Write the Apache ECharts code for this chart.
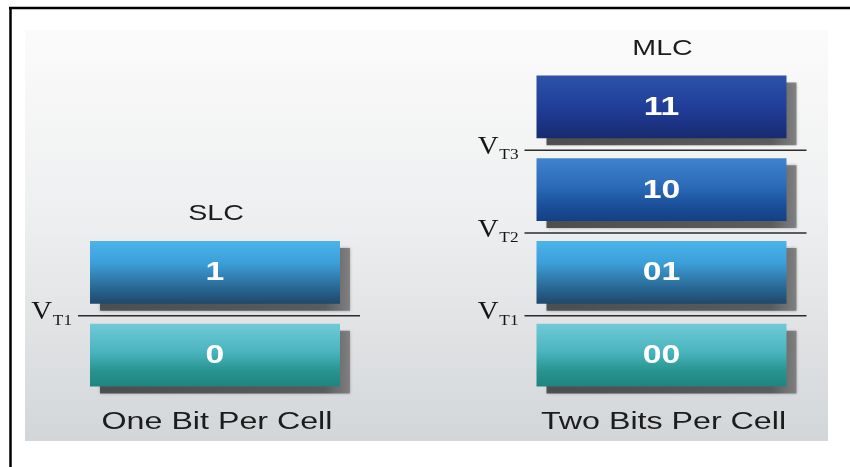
<!DOCTYPE html>
<html>
<head>
<meta charset="utf-8">
<script src="https://cdn.jsdelivr.net/npm/echarts@6/dist/echarts.min.js"></script>
<style>
  html, body { margin: 0; padding: 0; background: #ffffff; }
  #chart { width: 850px; height: 467px; }
</style>
</head>
<body>
<div id="chart"></div>
<script>
// ---- data ----
const columns = ['SLC', 'MLC'];
const captions = ['One Bit Per Cell', 'Two Bits Per Cell'];
const slcStates = ['0', '1'];
const mlcStates = ['00', '01', '10', '11'];
const slcThresholds = ['T1'];
const mlcThresholds = ['T1', 'T2', 'T3'];

// ---- derived tables ----
const cellData = [
  ...slcStates.map((s, i) => ({ value: [0, i], label: s })),
  ...mlcStates.map((s, i) => ({ value: [1, i], label: s }))
];
const thresholdData = [
  ...slcThresholds.map((t, i) => ({ value: [0, i + 1], label: t })),
  ...mlcThresholds.map((t, i) => ({ value: [1, i + 1], label: t }))
];
const headData = [
  { value: [0, slcStates.length], title: columns[0], caption: captions[0] },
  { value: [1, mlcStates.length], title: columns[1], caption: captions[1] }
];

// ---- styles ----
const SANS = "'Liberation Sans', Arial, Helvetica, sans-serif";
const SERIF = "'Liberation Serif', 'Times New Roman', serif";
const BAR_HALF = 125, INSET_TOP = 8, INSET_BOTTOM = 12;
const levelStops = [
  [['#70cad7', 0], ['#4ab4be', 0.45], ['#28948f', 0.75], ['#1f847f', 1]],
  [['#4cb3ec', 0], ['#3c9fda', 0.35], ['#2b6e9c', 0.7], ['#1e486a', 1]],
  [['#4083cd', 0], ['#2b6ab8', 0.45], ['#1b4f9a', 0.75], ['#143f84', 1]],
  [['#2d52a9', 0], ['#21409b', 0.45], ['#1c3486', 0.75], ['#172b70', 1]]
];
function grad(stops) {
  return new echarts.graphic.LinearGradient(0, 0, 0, 1,
    stops.map(s => ({ offset: s[1], color: s[0] })));
}

const chart = echarts.init(document.getElementById('chart'), null, { renderer: 'canvas' });

const option = {
  animation: false,
  backgroundColor: '#ffffff',
  grid: { left: 215, right: 188.5, top: 67.5, bottom: 68.5 },
  xAxis: { type: 'category', data: columns, boundaryGap: false, show: false },
  yAxis: { type: 'value', min: 0, max: mlcStates.length, show: false },
  graphic: [
    {
      type: 'rect', z: 0,
      shape: { x: 25, y: 30, width: 803, height: 411 },
      style: { fill: new echarts.graphic.LinearGradient(0, 0, 0, 1, [
        { offset: 0, color: '#fbfbfb' },
        { offset: 0.45, color: '#eeeff0' },
        { offset: 1, color: '#d3d6d9' }
      ]) }
    },
    { type: 'line', z: 1, shape: { x1: 9, y1: 8, x2: 850, y2: 8 }, style: { stroke: '#000', lineWidth: 2.5 } },
    { type: 'line', z: 1, shape: { x1: 10.5, y1: 7, x2: 10.5, y2: 467 }, style: { stroke: '#000', lineWidth: 2.5 } }
  ],
  series: [
    {
      type: 'custom',
      name: 'cells',
      data: cellData,
      z: 3,
      renderItem: function (params, api) {
        const item = cellData[params.dataIndex];
        const c = api.value(0), lv = api.value(1);
        const top = api.coord([c, lv + 1]);
        const bot = api.coord([c, lv]);
        const x = top[0] - BAR_HALF;
        const y = top[1] + INSET_TOP;
        const h = (bot[1] - INSET_BOTTOM) - y;
        return {
          type: 'group',
          children: [
            {
              type: 'rect',
              shape: { x: x + 10, y: y + 7, width: BAR_HALF * 2, height: h },
              style: {
                fill: new echarts.graphic.LinearGradient(0, 0, 1, 0, [
                  { offset: 0, color: 'rgba(70,70,70,0.92)' },
                  { offset: 0.9, color: 'rgba(85,85,85,0.92)' },
                  { offset: 1, color: 'rgba(120,120,120,0.85)' }
                ]),
                shadowBlur: 3, shadowColor: 'rgba(110,110,110,0.6)'
              }
            },
            {
              type: 'rect',
              shape: { x: x, y: y, width: BAR_HALF * 2, height: h },
              style: { fill: grad(levelStops[lv]) }
            },
            {
              type: 'text',
              x: top[0], y: y + h / 2 + 1, scaleX: 1.35,
              style: {
                text: item.label, fill: '#ffffff',
                font: 'bold 25px ' + SANS,
                align: 'center', verticalAlign: 'middle',
                textAlign: 'center', textVerticalAlign: 'middle'
              }
            }
          ]
        };
      }
    },
    {
      type: 'custom',
      name: 'thresholds',
      data: thresholdData,
      z: 4,
      renderItem: function (params, api) {
        const item = thresholdData[params.dataIndex];
        const p = api.coord([api.value(0), api.value(1)]);
        const x0 = p[0] - 137, x1 = p[0] + 145;
        return {
          type: 'group',
          children: [
            {
              type: 'line',
              shape: { x1: x0, y1: p[1], x2: x1, y2: p[1] },
              style: { stroke: '#2b2b2b', lineWidth: 1.6 }
            },
            {
              type: 'text',
              x: x0 - 6, y: p[1] + 5, scaleX: 1.15,
              style: {
                text: item.label, fill: '#151515',
                font: '15px ' + SERIF,
                align: 'right', verticalAlign: 'middle',
                textAlign: 'right', textVerticalAlign: 'middle'
              }
            },
            {
              type: 'text',
              x: x0 - 26, y: p[1] - 3, scaleX: 1.15,
              style: {
                text: 'V', fill: '#151515',
                font: '25px ' + SERIF,
                align: 'right', verticalAlign: 'middle',
                textAlign: 'right', textVerticalAlign: 'middle'
              }
            }
          ]
        };
      }
    },
    {
      type: 'custom',
      name: 'heads',
      data: headData,
      z: 4,
      renderItem: function (params, api) {
        const item = headData[params.dataIndex];
        const t = api.coord([api.value(0), api.value(1)]);
        const b = api.coord([api.value(0), 0]);
        return {
          type: 'group',
          children: [
            {
              type: 'text',
              x: t[0] + 1, y: t[1] - 19, scaleX: 1.3,
              style: {
                text: item.title, fill: '#1c1c1c',
                font: '22px ' + SANS,
                align: 'center', verticalAlign: 'middle',
                textAlign: 'center', textVerticalAlign: 'middle'
              }
            },
            {
              type: 'text',
              x: b[0] + 2, y: b[1] + 24, scaleX: 1.4,
              style: {
                text: item.caption, fill: '#1c1c1c',
                font: '23px ' + SANS,
                align: 'center', verticalAlign: 'middle',
                textAlign: 'center', textVerticalAlign: 'middle'
              }
            }
          ]
        };
      }
    }
  ]
};
chart.setOption(option);
</script>
</body>
</html>
